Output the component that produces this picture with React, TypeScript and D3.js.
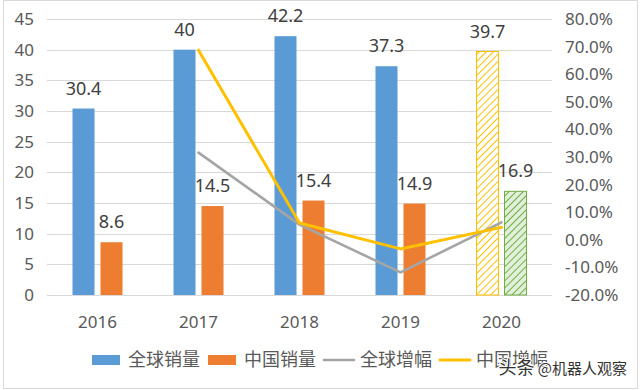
import React, { useEffect, useRef } from 'react';
import * as d3 from 'd3';

const YEARS = ['2016', '2017', '2018', '2019', '2020'];
const GLOBAL_SALES = [30.4, 40, 42.2, 37.3, 39.7];
const CHINA_SALES = [8.6, 14.5, 15.4, 14.9, 16.9];
const GROWTH_YEARS = ['2017', '2018', '2019', '2020'];
const GLOBAL_GROWTH = [31.6, 5.5, -11.8, 6.3];
const CHINA_GROWTH = [68.7, 6.1, -3.3, 4.5];
const LEFT_TICKS = [0, 5, 10, 15, 20, 25, 30, 35, 40, 45];
const RIGHT_TICKS = [-20, -10, 0, 10, 20, 30, 40, 50, 60, 70, 80];
const LEGEND = ['全球销量', '中国销量', '全球增幅', '中国增幅'];
const FORECAST_YEAR = '2020';

const W = 640;
const H = 390;
const FONT = '"Noto Sans", "Noto Sans CJK SC", sans-serif';
const CJK = '"Noto Sans CJK SC", sans-serif';

const App: React.FC = () => {
  const svgRef = useRef<SVGSVGElement>(null);

  useEffect(() => {
    if (!svgRef.current) return;
    const svg = d3.select(svgRef.current);
    svg.selectAll('*').remove();

    const left = 47;
    const right = 552;
    const top = 19;
    const bottom = 295;

    const x = d3.scaleBand<string>().domain(YEARS).range([left, right]);
    const bw = x.bandwidth();
    const inner = d3.scaleBand<string>()
      .domain(['global', 'china'])
      .range([0, bw])
      .paddingInner(6 / 28)
      .paddingOuter(0.91);
    const y = d3.scaleLinear().domain([0, 45]).range([bottom, top]);
    const y2 = d3.scaleLinear().domain([-20, 80]).range([bottom, top]);

    // hatch patterns for the 2020 forecast bars
    const defs = svg.append('defs');
    const hatch = (id: string, bg: string, fg: string) => {
      const p = defs.append('pattern')
        .attr('id', id)
        .attr('patternUnits', 'userSpaceOnUse')
        .attr('width', 5)
        .attr('height', 5)
        .attr('patternTransform', 'rotate(45)');
      p.append('rect').attr('width', 5).attr('height', 5).attr('fill', bg);
      p.append('line')
        .attr('x1', 0).attr('y1', 0).attr('x2', 0).attr('y2', 5)
        .attr('stroke', fg)
        .attr('stroke-width', 2);
    };
    hatch('hatch-yellow', '#ffffff', '#ffc000');
    hatch('hatch-green', '#e2f0d9', '#70ad47');

    svg.append('rect')
      .attr('x', 0).attr('y', 0).attr('width', W).attr('height', H)
      .attr('fill', '#fff');
    svg.append('rect')
      .attr('x', 3.5).attr('y', 0.5).attr('width', 634).attr('height', 388)
      .attr('fill', 'none')
      .attr('stroke', '#d9d9d9');

    // gridlines
    svg.append('g')
      .selectAll('line')
      .data(LEFT_TICKS)
      .enter()
      .append('line')
      .attr('x1', left).attr('x2', right)
      .attr('y1', (d) => Math.round(y(d)) + 0.5)
      .attr('y2', (d) => Math.round(y(d)) + 0.5)
      .attr('stroke', '#d9d9d9')
      .attr('stroke-width', 1);

    // left axis labels
    svg.append('g')
      .selectAll('text')
      .data(LEFT_TICKS)
      .enter()
      .append('text')
      .attr('x', 34)
      .attr('y', (d) => y(d))
      .attr('dy', '0.35em')
      .attr('text-anchor', 'end')
      .attr('font-family', FONT)
      .attr('font-size', '17px')
      .attr('fill', '#595959')
      .text((d) => String(d));

    // right axis labels
    svg.append('g')
      .selectAll('text')
      .data(RIGHT_TICKS)
      .enter()
      .append('text')
      .attr('x', 565)
      .attr('y', (d) => y2(d))
      .attr('dy', '0.35em')
      .attr('text-anchor', 'start')
      .attr('font-family', FONT)
      .attr('font-size', '17px')
      .attr('fill', '#595959')
      .text((d) => d.toFixed(1) + '%');

    // category labels
    svg.append('g')
      .selectAll('text')
      .data(YEARS)
      .enter()
      .append('text')
      .attr('x', (d) => (x(d) as number) + bw / 2)
      .attr('y', 322)
      .attr('dy', '0.35em')
      .attr('text-anchor', 'middle')
      .attr('font-family', FONT)
      .attr('font-size', '17px')
      .attr('fill', '#595959')
      .text((d) => d);

    const series = [
      { key: 'global', values: GLOBAL_SALES, color: '#5b9bd5', fc: 'url(#hatch-yellow)', fs: '#ffc000' },
      { key: 'china', values: CHINA_SALES, color: '#ed7d31', fc: 'url(#hatch-green)', fs: '#70ad47' },
    ];

    series.forEach((s) => {
      const g = svg.append('g');
      const data = YEARS.map((yr, i) => ({ yr, v: s.values[i] }));
      g.selectAll('rect')
        .data(data)
        .enter()
        .append('rect')
        .attr('x', (d) => (x(d.yr) as number) + (inner(s.key) as number))
        .attr('y', (d) => y(d.v))
        .attr('width', inner.bandwidth())
        .attr('height', (d) => bottom - y(d.v))
        .attr('fill', (d) => (d.yr === FORECAST_YEAR ? s.fc : s.color))
        .attr('stroke', (d) => (d.yr === FORECAST_YEAR ? s.fs : 'none'))
        .attr('stroke-width', 1);
      g.selectAll('text')
        .data(data)
        .enter()
        .append('text')
        .attr('x', (d) => (x(d.yr) as number) + (inner(s.key) as number) + inner.bandwidth() / 2)
        .attr('y', (d) => y(d.v) - 14)
        .attr('text-anchor', 'middle')
        .attr('font-family', FONT)
        .attr('font-size', '18px')
        .attr('fill', '#404040')
        .text((d) => String(d.v));
    });

    // growth lines on the right axis
    const line = d3.line<{ yr: string; v: number }>()
      .x((d) => (x(d.yr) as number) + bw / 2)
      .y((d) => y2(d.v));
    const lines = [
      { values: GLOBAL_GROWTH, color: '#a5a5a5', w: 2.6 },
      { values: CHINA_GROWTH, color: '#ffc000', w: 3 },
    ];
    lines.forEach((l) => {
      svg.append('path')
        .datum(GROWTH_YEARS.map((yr, i) => ({ yr, v: l.values[i] })))
        .attr('d', line)
        .attr('fill', 'none')
        .attr('stroke', l.color)
        .attr('stroke-width', l.w)
        .attr('stroke-linejoin', 'round')
        .attr('stroke-linecap', 'round');
    });

    // legend
    const colors = ['#5b9bd5', '#ed7d31', '#a5a5a5', '#ffc000'];
    const lg = svg.append('g');
    let cx = 92;
    LEGEND.forEach((name, i) => {
      if (i < 2) {
        lg.append('rect')
          .attr('x', cx).attr('y', 355).attr('width', 28).attr('height', 10)
          .attr('fill', colors[i]);
      } else {
        lg.append('line')
          .attr('x1', cx).attr('x2', cx + 30)
          .attr('y1', 360).attr('y2', 360)
          .attr('stroke', colors[i])
          .attr('stroke-width', i === 3 ? 3 : 2.6)
          .attr('stroke-linecap', 'round');
      }
      const t = lg.append('text')
        .attr('x', cx + 36)
        .attr('y', 360)
        .attr('dy', '0.35em')
        .attr('font-family', CJK)
        .attr('font-size', '18px')
        .attr('fill', '#595959')
        .text(name);
      const tw = (t.node() as SVGTextElement).getComputedTextLength();
      cx = cx + 36 + tw + 8;
    });

    // watermark
    const wm = svg.append('text')
      .attr('x', 627)
      .attr('y', 374)
      .attr('text-anchor', 'end')
      .attr('font-family', CJK)
      .attr('fill', '#333')
      .attr('stroke', '#fff')
      .attr('stroke-width', 2)
      .attr('paint-order', 'stroke');
    wm.append('tspan').attr('font-size', '18px').text('头条');
    wm.append('tspan').attr('font-size', '15px').text(' @机器人观察');
  }, []);

  return (
    <svg
      ref={svgRef}
      width={W}
      height={H}
      viewBox={`0 0 ${W} ${H}`}
      style={{ position: 'absolute', left: 0, top: 0, display: 'block' }}
    />
  );
};

export default App;
